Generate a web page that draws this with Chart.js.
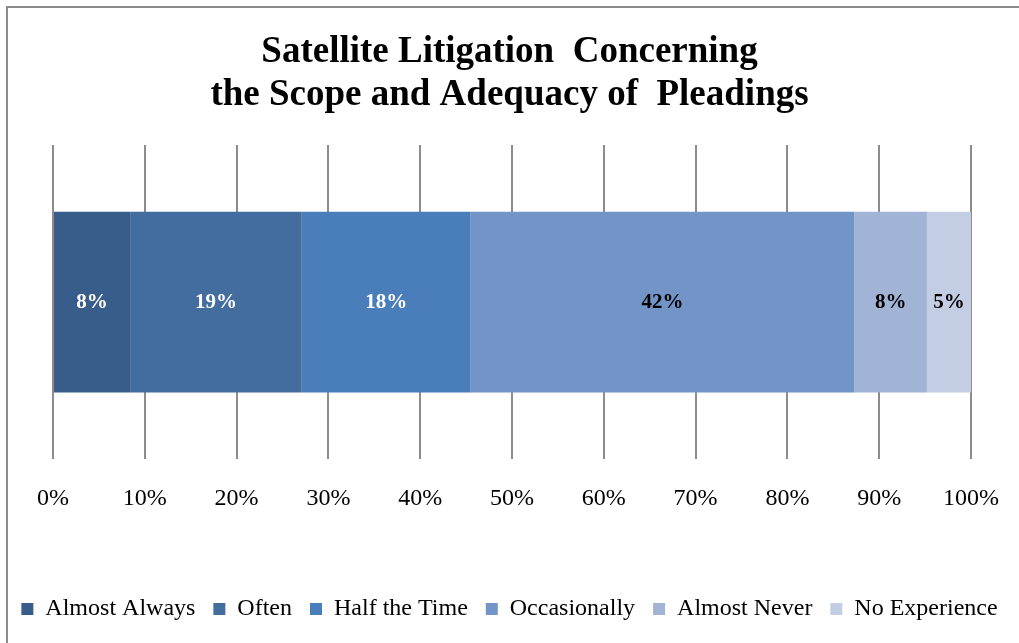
<!DOCTYPE html>
<html>
<head>
<meta charset="utf-8">
<script src="https://cdn.jsdelivr.net/npm/chart.js@4"></script>
<style>
  html, body { margin: 0; padding: 0; overflow: hidden; background: #fff; }
  #frame { position: absolute; left: 6px; top: 6px; width: 1100px; height: 700px; border: 2px solid #8c8c8c; }
  #wrap { position: absolute; left: 0; top: 0; width: 1019px; height: 643px; }
</style>
</head>
<body>
<div id="frame"></div>
<div id="wrap"><canvas id="chart"></canvas></div>
<script>
// shares of responses (percent)
var categories = ["Almost Always", "Often", "Half the Time", "Occasionally", "Almost Never", "No Experience"];
var values = [8.4, 18.7, 18.4, 41.8, 7.9, 4.8];
var shownLabels = ["8%", "19%", "18%", "42%", "8%", "5%"];
var colors = ["#385D8A", "#436C9F", "#4A7EBB", "#7394C7", "#A2B4D6", "#C3CDE3"];
var labelColors = ["#fff", "#fff", "#fff", "#000", "#000", "#000"];
var tickValues = [0, 10, 20, 30, 40, 50, 60, 70, 80, 90, 100];

var serif = "'Liberation Serif', 'DejaVu Serif', serif";

// writes the value in the middle of each segment
var segmentLabels = {
  id: "segmentLabels",
  afterDatasetsDraw: function(chart) {
    var ctx = chart.ctx;
    ctx.save();
    ctx.font = "bold 21px " + serif;
    ctx.textAlign = "center";
    ctx.textBaseline = "middle";
    chart.data.datasets.forEach(function(ds, i) {
      var bar = chart.getDatasetMeta(i).data[0];
      var c = bar.getCenterPoint();
      ctx.fillStyle = labelColors[i];
      ctx.fillText(shownLabels[i], c.x, c.y);
    });
    ctx.restore();
  }
};

var datasets = categories.map(function(name, i) {
  return {
    label: name,
    data: [values[i]],
    backgroundColor: colors[i],
    borderWidth: 0,
    barPercentage: 0.575,
    categoryPercentage: 1
  };
});

var ctx = document.getElementById("chart").getContext("2d");
var chart = new Chart(ctx, {
  type: "bar",
  data: { labels: [""], datasets: datasets },
  plugins: [segmentLabels],
  options: {
    indexAxis: "y",
    responsive: true,
    maintainAspectRatio: false,
    animation: false,
    events: [],
    layout: { padding: { left: 0, right: 0, top: 0, bottom: 12 } },
    scales: {
      x: {
        stacked: true,
        min: 0,
        max: 100,
        afterBuildTicks: function(scale) {
          scale.ticks = tickValues.map(function(v) { return { value: v }; });
        },
        afterFit: function(scale) {
          scale.height += 41;
          // side boxes already leave room for the end labels
          scale.paddingLeft = 0;
          scale.paddingRight = 0;
        },
        grid: { color: "#8c8c8c", lineWidth: 2, drawTicks: false },
        border: { display: false },
        ticks: {
          padding: 25,
          color: "#000",
          font: { family: serif, size: 24 },
          callback: function(v) { return v + "%"; }
        }
      },
      y: {
        stacked: true,
        display: true,
        grid: { display: false },
        border: { display: false },
        ticks: { display: false },
        afterFit: function(scale) { scale.width = 53; }
      },
      yRight: {
        type: "category",
        position: "right",
        display: true,
        grid: { display: false },
        border: { display: false },
        ticks: { display: false },
        afterFit: function(scale) { scale.width = 48; }
      }
    },
    plugins: {
      title: {
        display: true,
        text: ["Satellite Litigation  Concerning", "the Scope and Adequacy of  Pleadings"],
        color: "#000",
        font: { family: serif, size: 37, weight: "bold", lineHeight: 1.162 },
        padding: { top: 31, bottom: 28 }
      },
      legend: {
        position: "bottom",
        labels: {
          color: "#000",
          font: { family: serif, size: 24 },
          boxWidth: 12,
          boxHeight: 12,
          padding: 18
        }
      },
      tooltip: { enabled: false }
    }
  }
});
</script>
</body>
</html>
